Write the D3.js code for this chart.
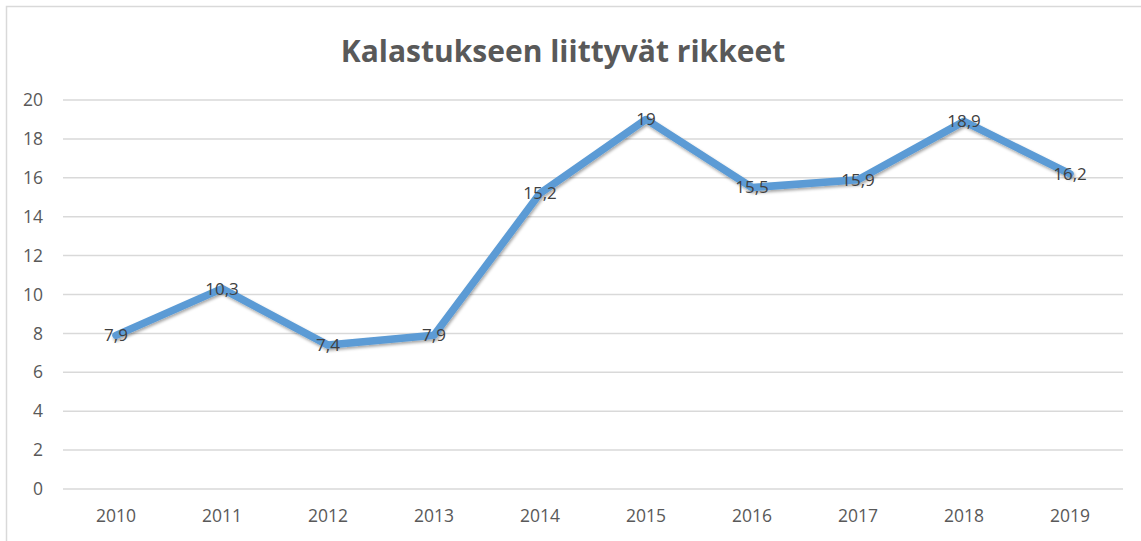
<!DOCTYPE html>
<html><head><meta charset="utf-8">
<script src="https://cdn.jsdelivr.net/npm/d3@7"></script>
<style>body{margin:0;background:#fff}svg{display:block}</style>
</head><body>
<svg id="c" width="1141" height="541"></svg>
<script>
const years = ["2010","2011","2012","2013","2014","2015","2016","2017","2018","2019"];
const values = [7.9, 10.3, 7.4, 7.9, 15.2, 19, 15.5, 15.9, 18.9, 16.2];
const yTicks = [0,2,4,6,8,10,12,14,16,18,20];
const title = "Kalastukseen liittyvät rikkeet";

const svg = d3.select("#c");
const W = 1141, H = 541;
const m = {left: 63, right: 18, top: 100, bottom: 52};
const FF = "'Open Sans', sans-serif";

svg.append("rect").attr("x",6.5).attr("y",6.5).attr("width",W+10).attr("height",H+10)
  .attr("fill","#fff").attr("stroke","#d9d9d9").attr("stroke-width",1.5);

const x = d3.scaleBand().domain(years).range([m.left, W - m.right]);
const y = d3.scaleLinear().domain([0,20]).range([H - m.bottom, m.top]);

const defs = svg.append("defs");
const f = defs.append("filter").attr("id","sh").attr("x","-10%").attr("y","-10%").attr("width","120%").attr("height","130%");
f.append("feDropShadow").attr("dx",1).attr("dy",2).attr("stdDeviation",1.8).attr("flood-color","#000").attr("flood-opacity",0.35);

// gridlines
svg.append("g").selectAll("line").data(yTicks).join("line")
  .attr("x1", m.left).attr("x2", W - m.right)
  .attr("y1", d => y(d)).attr("y2", d => y(d))
  .attr("stroke","#d9d9d9").attr("stroke-width",1.5);

// y axis
const yAxis = svg.append("g").attr("transform",`translate(${m.left-20},0)`)
  .call(d3.axisLeft(y).tickValues(yTicks).tickSize(0).tickPadding(0));
yAxis.select(".domain").remove();
yAxis.selectAll("text").attr("fill","#595959").style("font-family",FF).style("font-size","17.5px");

// x axis
const xAxis = svg.append("g").attr("transform",`translate(0,${H - m.bottom + 17})`)
  .call(d3.axisBottom(x).tickSize(0).tickPadding(0));
xAxis.select(".domain").remove();
xAxis.selectAll("text").attr("dy","0.9em").attr("fill","#595959").style("font-family",FF).style("font-size","17.5px");

// title
svg.append("text").attr("x", 563).attr("y", 62).attr("text-anchor","middle")
  .attr("fill","#595959").style("font-family",FF).style("font-weight","700").style("font-size","30px")
  .text(title);

// line
const line = d3.line().x((d,i) => x(years[i]) + x.bandwidth()/2).y(d => y(d));
svg.append("path").datum(values).attr("d", line)
  .attr("fill","none").attr("stroke","#5b9bd5").attr("stroke-width",7.5)
  .attr("stroke-linejoin","round").attr("stroke-linecap","round").attr("filter","url(#sh)");

// labels
svg.append("g").selectAll("text").data(values).join("text")
  .attr("x",(d,i) => x(years[i]) + x.bandwidth()/2)
  .attr("y", d => y(d)).attr("dy","0.35em").attr("text-anchor","middle")
  .attr("fill","#404040").style("font-family",FF).style("font-size","17px")
  .text(d => String(d).replace(".", ","));
</script>
</body></html>
